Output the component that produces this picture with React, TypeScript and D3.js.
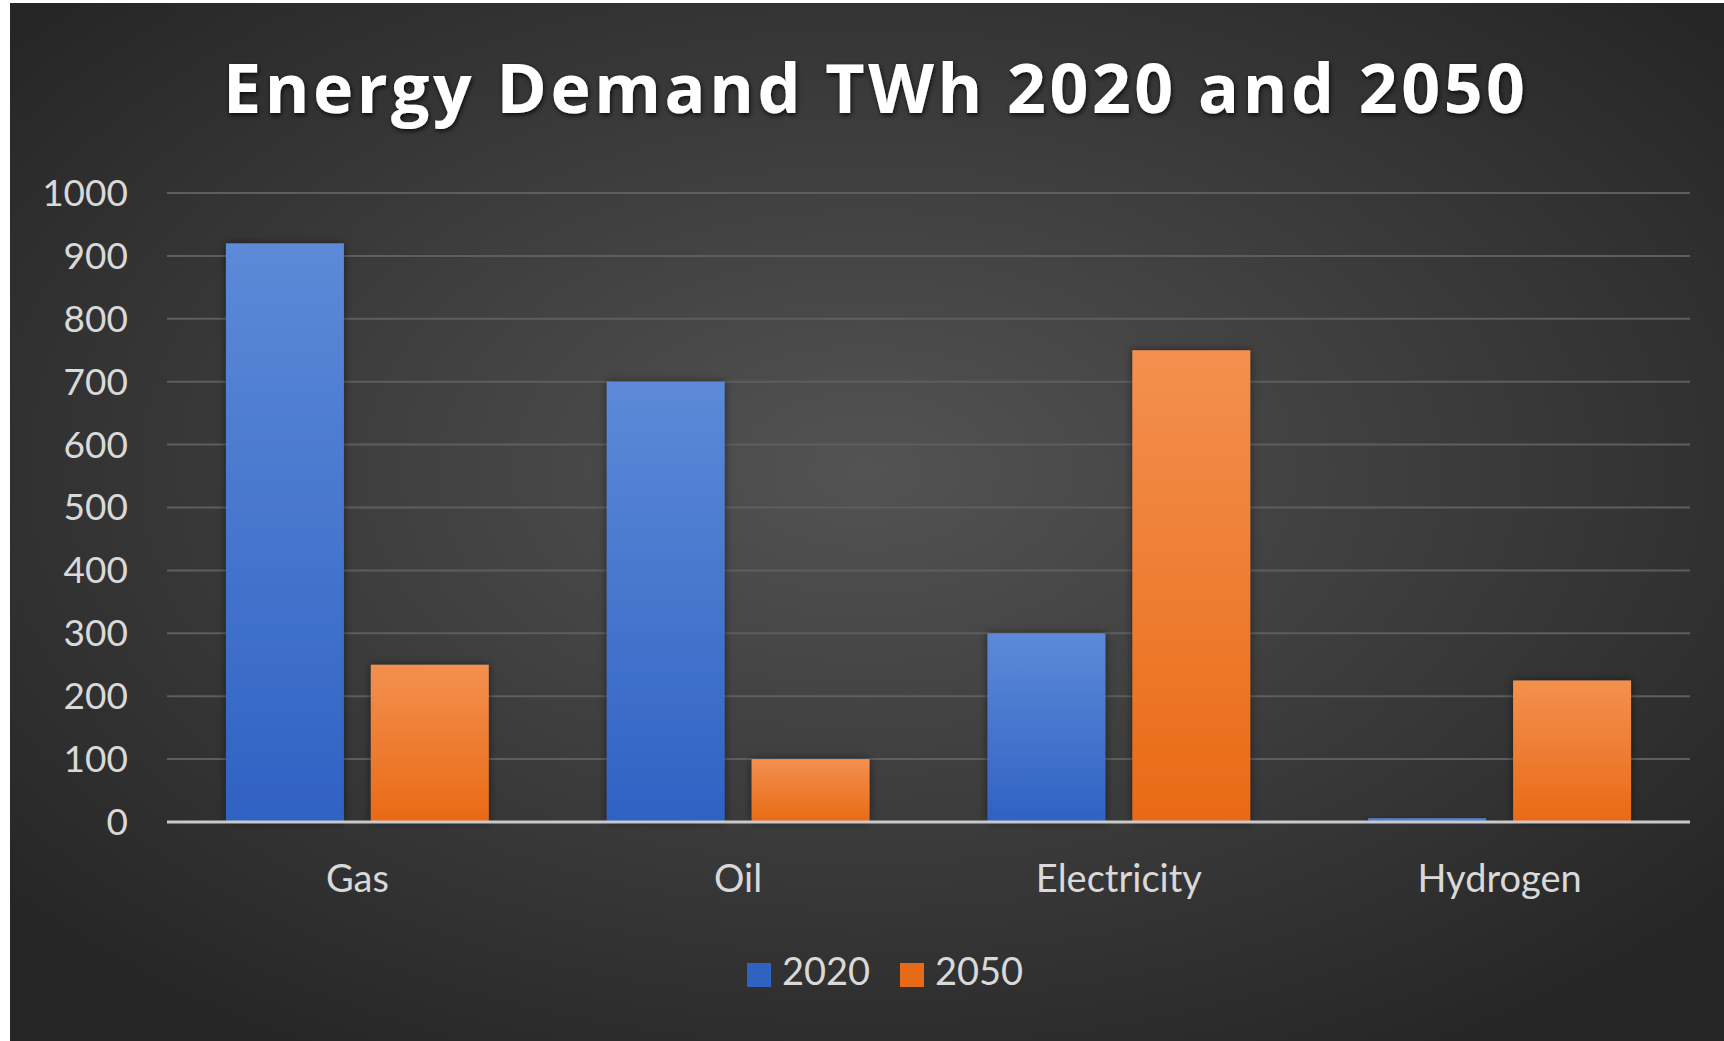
import React from "react";
import * as d3 from "d3";

// chart data
const categories = ["Gas", "Oil", "Electricity", "Hydrogen"];
const seriesNames = ["2020", "2050"];
const values2020 = [920, 700, 300, 6];
const values2050 = [250, 100, 750, 225];
const yTicks = [0, 100, 200, 300, 400, 500, 600, 700, 800, 900, 1000];
const chartTitle = "Energy Demand TWh 2020 and 2050";

const W = 1724;
const H = 1041;
const margin = { left: 167, right: 34, top: 193, bottom: 219 };

const seriesColors: Record<string, [string, string]> = {
  "2020": ["#5c8ad8", "#2f62c3"],
  "2050": ["#f3904f", "#e96a15"],
};

const App = () => {
  const x0 = d3
    .scaleBand<string>()
    .domain(categories)
    .range([margin.left, W - margin.right])
    .padding(0);

  // inner scale: 2 bars per group, excel-like gap width / overlap
  const x1 = d3
    .scaleBand<string>()
    .domain(seriesNames)
    .range([0, x0.bandwidth()])
    .paddingInner(0.186)
    .paddingOuter(0.407);

  const y = d3
    .scaleLinear()
    .domain([0, 1000])
    .range([H - margin.bottom, margin.top]);

  const rows = categories.map((c, i) => ({
    cat: c,
    vals: [
      { key: "2020", v: values2020[i] },
      { key: "2050", v: values2050[i] },
    ],
  }));

  const labelFont = "Lato, 'Open Sans', sans-serif";

  return (
    <svg
      width={W}
      height={H}
      style={{ position: "absolute", left: 0, top: 0, display: "block" }}
    >
      <defs>
        <radialGradient id="bg" cx="50%" cy="45%" r="65%">
          <stop offset="0%" stopColor="#535353" />
          <stop offset="100%" stopColor="#262626" />
        </radialGradient>
        {seriesNames.map((s) => (
          <linearGradient key={s} id={"grad" + s} x1="0" y1="0" x2="0" y2="1">
            <stop offset="0%" stopColor={seriesColors[s][0]} />
            <stop offset="100%" stopColor={seriesColors[s][1]} />
          </linearGradient>
        ))}
        <filter id="barShadow" x="-20%" y="-20%" width="140%" height="140%">
          <feDropShadow dx="0" dy="0" stdDeviation="4" floodColor="#000" floodOpacity="0.5" />
        </filter>
        <filter id="titleShadow" x="-5%" y="-30%" width="110%" height="160%">
          <feDropShadow dx="1" dy="2" stdDeviation="2.5" floodColor="#000" floodOpacity="0.8" />
        </filter>
      </defs>

      <rect x={0} y={0} width={W} height={H} fill="#ffffff" />
      <rect x={10} y={3} width={W - 10} height={H - 3} fill="url(#bg)" />

      <text
        x={874}
        y={113}
        textAnchor="middle"
        fill="#ffffff"
        fontFamily="'Open Sans', sans-serif"
        fontWeight={700}
        fontSize={68}
        textLength={1302}
        lengthAdjust="spacing"
        filter="url(#titleShadow)"
      >
        {chartTitle}
      </text>

      {/* gridlines */}
      {yTicks
        .filter((t) => t > 0)
        .map((t) => (
          <line
            key={t}
            x1={margin.left}
            x2={W - margin.right}
            y1={y(t)}
            y2={y(t)}
            stroke="#5e5e5e"
            strokeWidth={2}
          />
        ))}

      {/* y tick labels */}
      {yTicks.map((t) => (
        <text
          key={t}
          x={128}
          y={y(t)}
          dy="0.35em"
          textAnchor="end"
          fill="#d9d9d9"
          fontFamily={labelFont}
          fontSize={37}
        >
          {t}
        </text>
      ))}

      {/* bars */}
      {rows.map((r) => (
        <g key={r.cat} transform={`translate(${x0(r.cat)},0)`}>
          {r.vals.map((d) => (
            <rect
              key={d.key}
              x={x1(d.key)}
              y={y(d.v)}
              width={x1.bandwidth()}
              height={y(0) - y(d.v)}
              fill={`url(#grad${d.key})`}
              filter="url(#barShadow)"
            />
          ))}
        </g>
      ))}

      {/* zero axis */}
      <line
        x1={margin.left}
        x2={W - margin.right}
        y1={y(0)}
        y2={y(0)}
        stroke="#c9c9c9"
        strokeWidth={3}
      />

      {/* category labels */}
      {categories.map((c) => (
        <text
          key={c}
          x={(x0(c) ?? 0) + x0.bandwidth() / 2}
          y={892}
          textAnchor="middle"
          fill="#d9d9d9"
          fontFamily={labelFont}
          fontSize={38}
        >
          {c}
        </text>
      ))}

      {/* legend */}
      {seriesNames.map((s, i) => {
        const lx = 747 + i * 153;
        return (
          <g key={s}>
            <rect x={lx} y={963} width={24} height={24} fill={seriesColors[s][1]} />
            <text
              x={lx + 35}
              y={985}
              fill="#d9d9d9"
              fontFamily={labelFont}
              fontSize={38}
            >
              {s}
            </text>
          </g>
        );
      })}
    </svg>
  );
};

export default App;
